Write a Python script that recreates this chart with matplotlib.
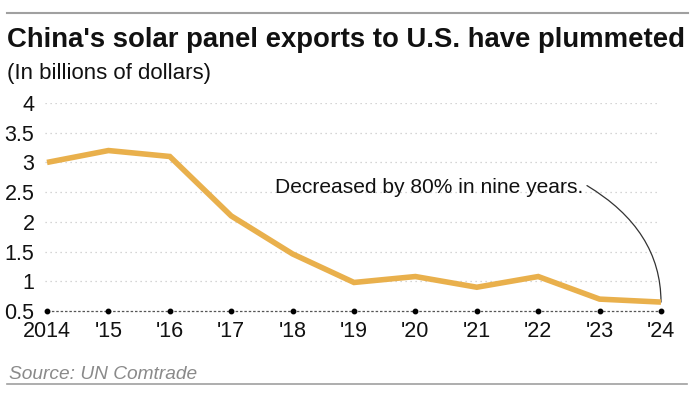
# China solar panel exports to the U.S., 2014-2024

import numpy as np
import matplotlib
matplotlib.use('Agg')
import matplotlib.pyplot as plt
from matplotlib.lines import Line2D

years = np.arange(2014, 2025)
exports = [3.0, 3.2, 3.1, 2.1, 1.46, 0.98, 1.08, 0.9, 1.08, 0.7, 0.65]
xlabels = ['2014', "'15", "'16", "'17", "'18", "'19", "'20", "'21", "'22", "'23", "'24"]
yticks = [0.5, 1, 1.5, 2, 2.5, 3, 3.5, 4]
ylabels = ['0.5', '1', '1.5', '2', '2.5', '3', '3.5', '4']

plt.rcParams['font.family'] = ['Liberation Sans', 'DejaVu Sans']

W, H = 700, 394
fig = plt.figure(figsize=(7, 3.94), dpi=100)

# axes: 2014 at px 47, 2024 at px 661; y 4 at px 103, 0.5 at px 311
ppy = (661 - 47) / 10.
left_px, right_px = 40, 668
ax = fig.add_axes([left_px / W, (H - 311) / H, (right_px - left_px) / W, (311 - 103) / H])
ax.set_xlim(2014 - (47 - left_px) / ppy, 2024 + (right_px - 661) / ppy)
ax.set_ylim(0.5, 4)

for s in ax.spines.values():
    s.set_visible(False)

# dotted grid
ax.hlines(yticks[1:], 2014 - 2 / ppy, 2024 - 3 / ppy, colors='#c8c8c8',
          linestyles=(0, (1, 3)), linewidth=0.9, zorder=1)
# baseline with year dots
ax.hlines(0.5, 2014, 2024, colors='#555555', linestyles=(0, (2, 1.5)),
          linewidth=0.9, zorder=2, clip_on=False)
ax.plot(years, [0.5] * len(years), 'o', color='black', markersize=3.2,
        zorder=3, clip_on=False)

ax.plot(years, exports, color='#E9B04C', linewidth=4, solid_joinstyle='miter',
        solid_capstyle='butt', zorder=4, clip_on=False)

ax.set_xticks(years)
ax.set_xticklabels(xlabels, fontsize=15.5)
ax.set_yticks(yticks)
ax.set_yticklabels(ylabels, fontsize=15.5)
ax.tick_params(axis='x', length=0, pad=7, colors='#111111')
ax.tick_params(axis='y', length=0, pad=4, colors='#111111')

ax.annotate('Decreased by 80% in nine years.', xy=(2024, 0.65),
            xytext=(2014 + (583 - 47) / ppy, 2.57), ha='right', va='center',
            fontsize=15.1, color='#111111',
            arrowprops=dict(arrowstyle='-', color='#333333', lw=0.9,
                            relpos=(1, 0.75), shrinkA=1, shrinkB=0,
                            connectionstyle='angle3,angleA=-30,angleB=90'))

# title, subtitle, source and rules
fig.text(7 / W, 1 - 47 / H, "China's solar panel exports to U.S. have plummeted",
         fontsize=19.8, fontweight='bold', color='#111111', va='baseline')
fig.text(7 / W, 1 - 79 / H, '(In billions of dollars)', fontsize=16,
         color='#111111', va='baseline')
fig.text(9 / W, 1 - 379 / H, 'Source: UN Comtrade', fontsize=13.8, style='italic',
         color='#8a8a8a', va='baseline')
fig.add_artist(Line2D([7 / W, 688 / W], [1 - 13 / H] * 2, color='#a0a0a0', lw=1.5))
fig.add_artist(Line2D([7 / W, 687 / W], [1 - 384 / H] * 2, color='#a0a0a0', lw=1.2))

fig.savefig('out.png', dpi=100)
